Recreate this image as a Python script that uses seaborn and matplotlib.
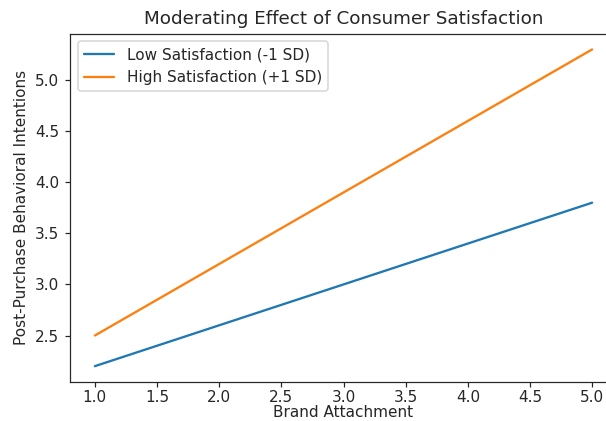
import matplotlib
matplotlib.use("Agg")
import matplotlib.pyplot as plt
import seaborn as sns
import pandas as pd

brand_attachment = [1.0, 5.0]
low_satisfaction = [2.2, 3.8]
high_satisfaction = [2.5, 5.3]
series_names = ["Low Satisfaction (-1 SD)", "High Satisfaction (+1 SD)"]

df = pd.DataFrame({
    "x": brand_attachment * 2,
    "y": low_satisfaction + high_satisfaction,
    "group": [series_names[0]] * 2 + [series_names[1]] * 2,
})

sns.set_style("ticks")
plt.rcParams['font.family'] = ['DejaVu Sans']

DPI = 110
fig = plt.figure(figsize=(606 / DPI, 421 / DPI), dpi=DPI)
ax = fig.add_axes([70 / 606, 1 - 382 / 421, 547 / 606, (382 - 33.6) / 421])
sns.lineplot(data=df, x="x", y="y", hue="group", palette=["#1f77b4", "#ff7f0e"],
             ax=ax, linewidth=1.5)
ax.set_title("Moderating Effect of Consumer Satisfaction", fontsize=12)
ax.set_xlabel("Brand Attachment", labelpad=0)
ax.set_ylabel("Post-Purchase Behavioral Intentions")
ax.set_xticks([1.0, 1.5, 2.0, 2.5, 3.0, 3.5, 4.0, 4.5, 5.0])
ax.set_yticks([2.5, 3.0, 3.5, 4.0, 4.5, 5.0])
ax.tick_params(axis="x", length=3, pad=2.5)
ax.legend(loc="upper left", title=None)
fig.savefig("out.png", dpi=DPI)
